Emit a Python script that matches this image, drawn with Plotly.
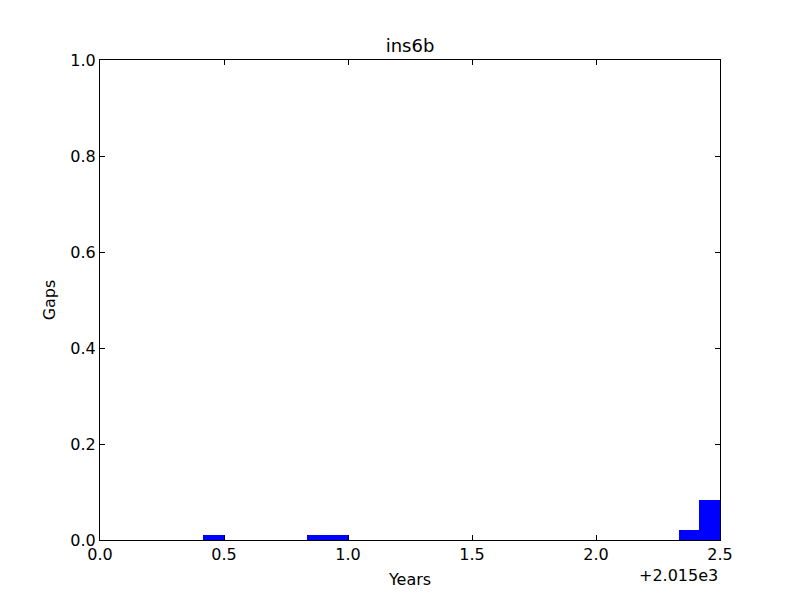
import plotly.graph_objects as go

# Histogram bins (monthly), left edges in years, and heights
bin_left = [2015 + 5/12, 2015 + 10/12, 2015 + 11/12, 2015 + 28/12, 2015 + 29/12]
gaps = [0.0104, 0.0104, 0.0104, 0.0208, 0.0833]
bin_width = 1/12

tick_vals = [2015.0, 2015.5, 2016.0, 2016.5, 2017.0, 2017.5]
tick_text = ["0.0", "0.5", "1.0", "1.5", "2.0", "2.5"]
y_ticks = [0.0, 0.2, 0.4, 0.6, 0.8, 1.0]
y_text = ["0.0", "0.2", "0.4", "0.6", "0.8", "1.0"]

centers = [b + bin_width/2 for b in bin_left]

fig = go.Figure(go.Bar(x=centers, y=gaps, width=bin_width,
                       marker=dict(color="#0000ff", line=dict(width=0))))

# page body has an 8px margin, so the figure is 792x592 and shifted
W, H = 792, 592
font = dict(family="DejaVu Sans", size=16, color="black")
fig.update_layout(
    width=W, height=H,
    margin=dict(l=92, r=80, t=52, b=60),
    paper_bgcolor="white", plot_bgcolor="white",
    font=font,
    showlegend=False,
    bargap=0,
    title=dict(text="ins6b", x=(410 - 8) / W, xanchor="center", y=1 - 38/H, yanchor="middle",
               font=dict(family="DejaVu Sans", size=18, color="black")),
    xaxis=dict(range=[2015.0, 2017.5], tickvals=tick_vals, ticktext=tick_text,
               ticks="inside", ticklen=5, tickcolor="black", showline=True,
               linecolor="black", linewidth=1, mirror="ticks", showgrid=False,
               zeroline=False, automargin=False,
               title=dict(text="Years", standoff=10, font=font),
               tickfont=font),
    yaxis=dict(range=[0, 1], tickvals=y_ticks, ticktext=y_text,
               ticks="inside", ticklen=5, tickcolor="black", showline=True,
               linecolor="black", linewidth=1, mirror="ticks", showgrid=False,
               zeroline=False, automargin=False,
               title=dict(text="Gaps", standoff=10, font=font),
               tickfont=font),
    annotations=[dict(text="+2.015e3", xref="paper", yref="paper", x=1.0, y=0,
                      xanchor="right", yanchor="top", yshift=-24, showarrow=False,
                      font=font)],
)

fig.write_html("out.html")
